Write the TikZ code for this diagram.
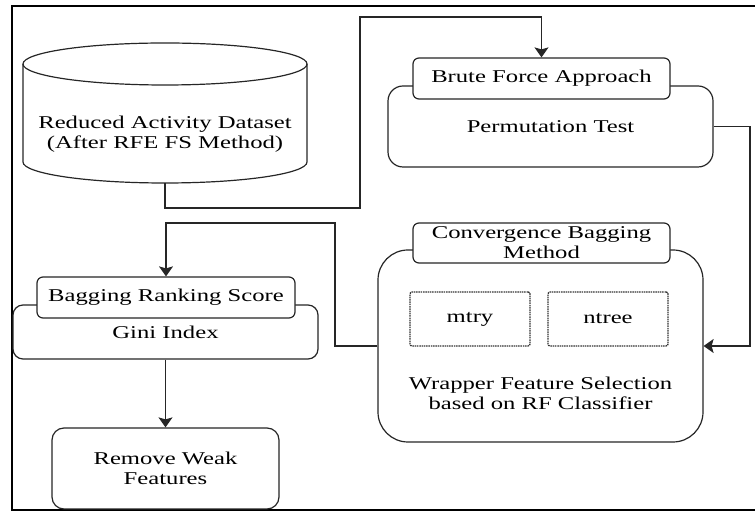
\documentclass[tikz,border=0pt]{standalone}
\usepackage{fontspec}
\setmainfont[FakeStretch=1.37]{Liberation Serif}
\usetikzlibrary{arrows.meta,positioning}
\tikzset{
  ln/.style={line width=1.2pt, draw=black!85},
  arr/.style={ln, -{Stealth[width=14pt,length=10pt,inset=2pt]}},
  box/.style={ln, rounded corners=#1, fill=white, inner sep=0pt, align=center},
  box/.default=10pt,
  dbox/.style={draw=black!80, line width=1.3pt, dash pattern=on 1.5pt off 0.8pt, rounded corners=2pt, inner sep=0pt},
  lbl/.style={inner sep=0pt, align=center}
}
\begin{document}
\begin{tikzpicture}[x=1pt,y=1pt,font=\fontsize{18}{20}\selectfont]
\useasboundingbox (0,0) rectangle (755,511);
% outer frame
\draw[line width=2.2pt] (756,505) -- (12,505) -- (12,1) -- (756,1);

% cylinder
\node[lbl, minimum width=284, minimum height=98] (db) at (165,377) {Reduced Activity Dataset\\(After RFE FS Method)};
\draw[ln] (23,447) -- (23,349) arc[start angle=180,end angle=360,x radius=142,y radius=21] -- (307,447);
\draw[ln] (165,447) ellipse[x radius=142, y radius=21];

% brute force
\node[box=15pt, minimum width=325, minimum height=81] (pt) at (550.5,384.5) {Permutation Test};
\node[box=6pt, minimum width=257, minimum height=41] (bf) at (541.5,432.5) {Brute Force Approach};

% convergence
\node[box=30pt, minimum width=325, minimum height=192] (cv) at (540.5,165) {};
\node[box=6pt, minimum width=257, minimum height=40] (cb) at (541.5,268) {Convergence Bagging\\Method};
\node[dbox, minimum width=120, minimum height=54] (mt) at (470,192) {mtry};
\node[dbox, minimum width=120, minimum height=54] (nt) at (608,192) {ntree};
\node[lbl] (wr) at (540.5,118) {Wrapper Feature Selection\\based on RF Classifier};

% bagging
\node[box=10pt, minimum width=305, minimum height=54] (gi) at (165.5,179) {Gini Index};
\node[box=6pt, minimum width=258, minimum height=41] (br) at (166,213.5) {Bagging Ranking Score};
\node[box=12pt, minimum width=227, minimum height=81] (rw) at (165.5,42.5) {Remove Weak\\Features};

% connectors
\draw[arr] (db.south) -- (165,303) -| (360,494) -| (bf.north);
\draw[arr] (pt.east) -| (750,165) -- (cv.east);
\draw[arr] (cv.west) -| (335,288) -| (br.north);
\draw[arr] (gi.south) -- (rw.north);
\end{tikzpicture}
\end{document}
